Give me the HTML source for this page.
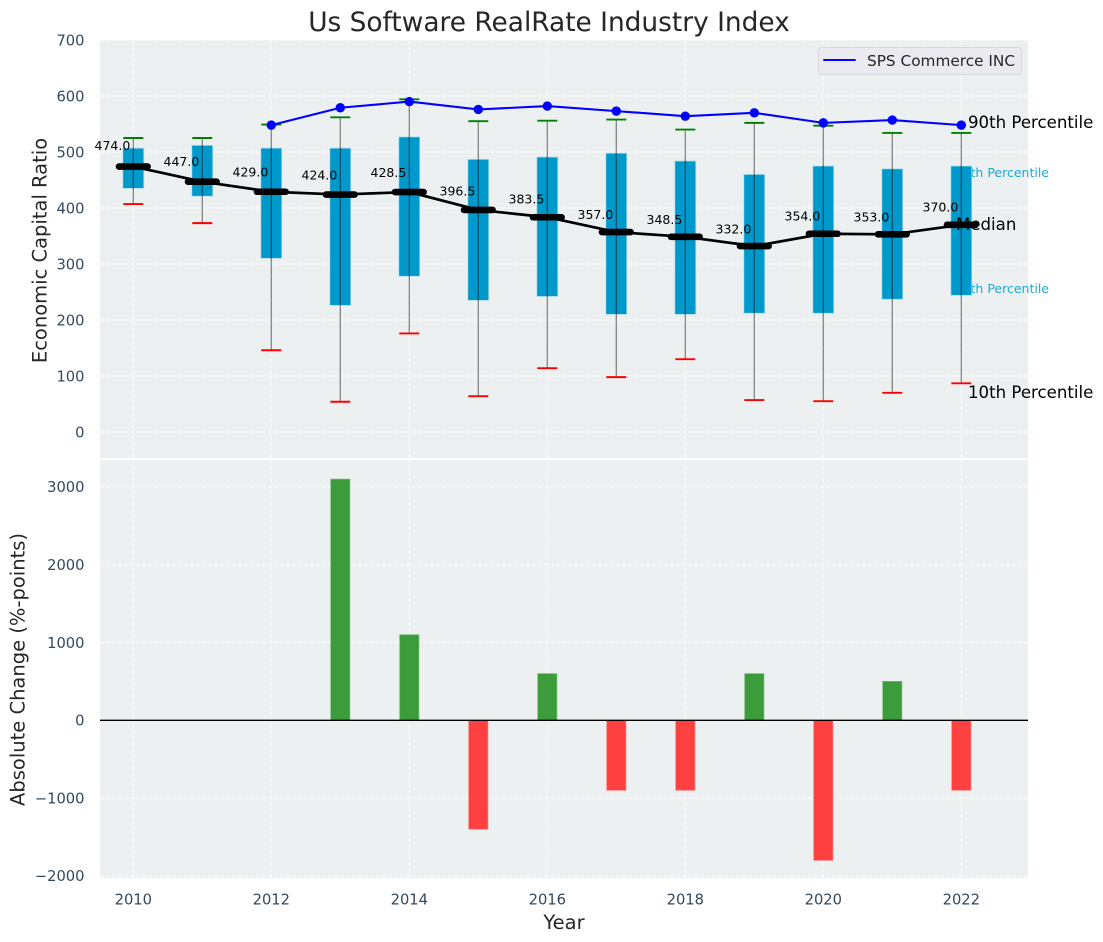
<!DOCTYPE html>
<html lang="en">
<head>
<meta charset="utf-8">
<title>Us Software RealRate Industry Index</title>
<style>
html,body{margin:0;padding:0;background:#fff;width:1103px;height:942px;overflow:hidden}
svg{display:block;font-family:"DejaVu Sans","Liberation Sans",sans-serif}
</style>
</head>
<body>
<svg id="chart" xmlns="http://www.w3.org/2000/svg" width="1103" height="942" viewBox="0 0 1103 942">
  <text x="549" y="31" text-anchor="middle" font-size="26.4" fill="#262626">Us Software RealRate Industry Index</text>
  <rect x="100" y="40" width="928" height="418" fill="#ecf0f1"/>
  <rect x="100" y="460" width="928" height="418" fill="#ecf0f1"/>
  <g id="grid"></g>
  <g id="ticks"></g>
  <text transform="translate(46.5,250.5) rotate(-90)" text-anchor="middle" font-size="19.5" fill="#262626">Economic Capital Ratio</text>
  <text transform="translate(24.5,669.5) rotate(-90)" text-anchor="middle" font-size="19.5" fill="#262626">Absolute Change (%-points)</text>
  <text x="564" y="929" text-anchor="middle" font-size="19.5" fill="#262626">Year</text>
  <text x="1049" y="177" text-anchor="end" font-size="12.5" fill="#1fa8d2">75th Percentile</text>
  <text x="1049" y="293" text-anchor="end" font-size="12.5" fill="#1fa8d2">25th Percentile</text>
  <g id="marks"></g>
  <text x="956" y="230" font-size="16.6" fill="#000">Median</text>
  <text x="968" y="128" font-size="16.6" fill="#000">90th Percentile</text>
  <text x="968" y="398" font-size="16.6" fill="#000">10th Percentile</text>
  <g>
    <rect x="818.5" y="47.5" width="203" height="27" rx="3" fill="#eaeaf0" stroke="#d6d6dc" stroke-width="1"/>
    <line x1="823.3" y1="60" x2="855.7" y2="60" stroke="#0000ff" stroke-width="2"/>
    <text x="867" y="66" font-size="15.3" fill="#262626">SPS Commerce INC</text>
  </g>
</svg>
<script>
const years = [2010,2011,2012,2013,2014,2015,2016,2017,2018,2019,2020,2021,2022];
const p90 = [525,525,549,562,594,555,556,558,540,552,547,534,534];
const p75 = [507,512,507,507,527,487,491,498,484,460,475,470,475];
const median = [474,447,429,424,428.5,396.5,383.5,357,348.5,332,354,353,370];
const p25 = [435,421,310,226,278,235,242,210,210,212,212,237,244];
const p10 = [407,373,146,54,176,64,114,98,130,57,55,70,87];
const spsCommerce = [null,null,548,579,590,576,582,573,564,570,552,557,548];
const absoluteChange = [null,null,null,3100,1100,-1400,600,-900,-900,600,-1800,500,-900];
const topTicks = [0,100,200,300,400,500,600,700];
const bottomTicks = [-2000,-1000,0,1000,2000,3000];
const xTicks = [2010,2012,2014,2016,2018,2020,2022];

const NS = 'http://www.w3.org/2000/svg';
const gridG = document.getElementById('grid');
const ticksG = document.getElementById('ticks');
const marksG = document.getElementById('marks');
const xScale = v => 133.3 + (v - 2010) * 69;
const yTop = v => 432 - v * 0.56;
const yBottom = v => 720.3 - v * 0.0778;
const fmt = v => String(v).replace('-', '\u2212');

function make(tag, attrs, parent) {
  const node = document.createElementNS(NS, tag);
  Object.keys(attrs).forEach(k => node.setAttribute(k, attrs[k]));
  parent.appendChild(node);
  return node;
}

topTicks.forEach(t => {
  const l = make('line', {x1:100, x2:1028, y1:yTop(t), y2:yTop(t), stroke:'#fff', 'stroke-width':1, 'stroke-dasharray':'4 2', opacity:0.85}, gridG);
  
  
  const s = make('text', {x:84.5, y:yTop(t)+5.3, 'text-anchor':'end', 'font-size':14.7, fill:'#34495e'}, ticksG);
  s.textContent = fmt(t);
  
  
});
bottomTicks.forEach(t => {
  const l = make('line', {x1:100, x2:1028, y1:yBottom(t), y2:yBottom(t), stroke:'#fff', 'stroke-width':1, 'stroke-dasharray':'4 2', opacity:0.85}, gridG);
  
  
  const s = make('text', {x:84.5, y:yBottom(t)+5.3, 'text-anchor':'end', 'font-size':14.7, fill:'#34495e'}, ticksG);
  s.textContent = fmt(t);
  
  
});
xTicks.forEach(t => {
  const a = make('line', {x1:xScale(t), x2:xScale(t), y1:40, y2:458, stroke:'#fff', 'stroke-width':1, 'stroke-dasharray':'4 2', opacity:0.85}, gridG);
  
  
  const b = make('line', {x1:xScale(t), x2:xScale(t), y1:460, y2:878, stroke:'#fff', 'stroke-width':1, 'stroke-dasharray':'4 2', opacity:0.85}, gridG);
  
  
  const s = make('text', {x:xScale(t), y:904.7, 'text-anchor':'middle', 'font-size':14.7, fill:'#34495e'}, ticksG);
  s.textContent = String(t);
  
  
});

years.forEach((yr, i) => {
  const x = xScale(yr);
  const box = make('rect', {x:x-10.5, y:yTop(p75[i]), width:21, height:yTop(p25[i])-yTop(p75[i]), fill:'#0099cc', stroke:'#b5dfee', 'stroke-width':0.8}, marksG);
  
  
  const whisker = make('line', {x1:x, x2:x, y1:yTop(p90[i]), y2:yTop(p10[i]), stroke:'#000', 'stroke-width':1.3, opacity:0.45}, marksG);
  
  
  const capHigh = make('line', {x1:x-10, x2:x+10, y1:yTop(p90[i]), y2:yTop(p90[i]), stroke:'#008000', 'stroke-width':1.9}, marksG);
  
  
  const capLow = make('line', {x1:x-10, x2:x+10, y1:yTop(p10[i]), y2:yTop(p10[i]), stroke:'#ff0000', 'stroke-width':1.9}, marksG);
  
  
});

const medianLine = make('polyline', {points:years.map((yr,i)=>xScale(yr)+','+yTop(median[i])).join(' '), fill:'none', stroke:'#000', 'stroke-width':2.7}, marksG);



years.forEach((yr, i) => {
  const x = xScale(yr), y = yTop(median[i]);
  const bar = make('line', {x1:x-14.3, x2:x+14.3, y1:y, y2:y, stroke:'#000', 'stroke-width':6.6, 'stroke-linecap':'round'}, marksG);
  
  
  const label = make('text', {x:x-3, y:y-(0.03*median[i]+2.4), 'text-anchor':'end', 'font-size':12.5, fill:'#000'}, marksG);
  label.textContent = median[i].toFixed(1);
  
  
});

const spsPoints = years.map((yr,i)=>spsCommerce[i]===null?null:xScale(yr)+','+yTop(spsCommerce[i])).filter(Boolean).join(' ');
const spsLine = make('polyline', {points:spsPoints, fill:'none', stroke:'#0000ff', 'stroke-width':2.1}, marksG);


years.forEach((yr, i) => {
  if (spsCommerce[i] === null) return;
  const dot = make('circle', {cx:xScale(yr), cy:yTop(spsCommerce[i]), r:4.7, fill:'#0000ff'}, marksG);
  
  
});

years.forEach((yr, i) => {
  const v = absoluteChange[i];
  if (v === null) return;
  const top = Math.min(yBottom(v), yBottom(0));
  const bar = make('rect', {x:xScale(yr)-9.6, y:top, width:19.2, height:Math.abs(yBottom(v)-yBottom(0)), fill:v>=0?'#3c9c3c':'#ff4040', stroke:v>=0?'#70b870':'#ff7878', 'stroke-width':0.7}, marksG);
  
  
});
const zero = make('line', {x1:100, x2:1028, y1:yBottom(0), y2:yBottom(0), stroke:'#000', 'stroke-width':1.3}, marksG);


</script>
</body>
</html>
